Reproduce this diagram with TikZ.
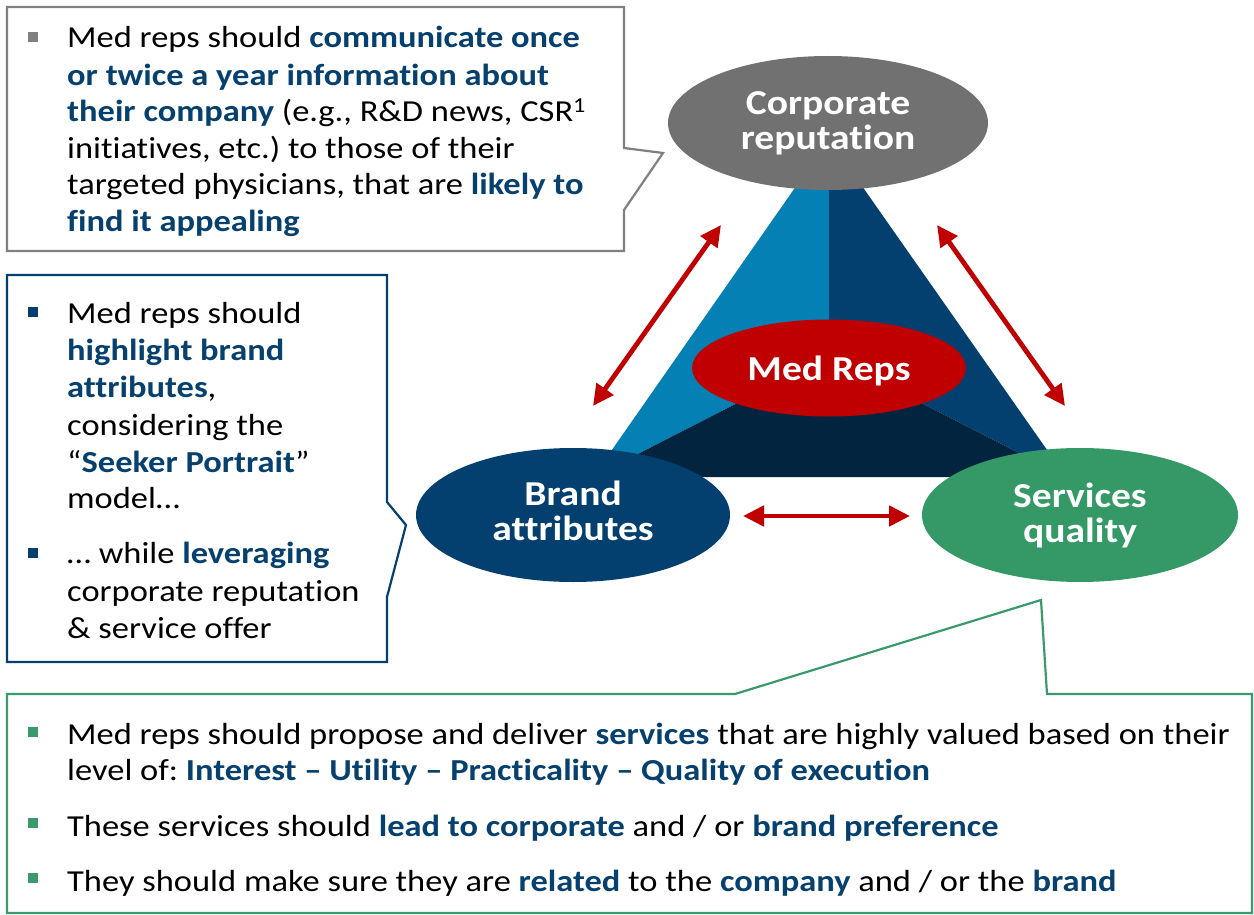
\documentclass[tikz,border=0pt]{standalone}
\usepackage{fontspec}
\setmainfont{Carlito}[FakeStretch=1.13,Ligatures=NoCommon]
\usetikzlibrary{arrows.meta,shapes.geometric}
\definecolor{tblue}{HTML}{06406F}
\definecolor{lblue}{HTML}{0580B4}
\definecolor{dblue}{HTML}{03406F}
\definecolor{ddblue}{HTML}{02243F}
\definecolor{cred}{HTML}{C00000}
\definecolor{cgray}{HTML}{717171}
\definecolor{bgray}{HTML}{808080}
\definecolor{cgreen}{HTML}{349966}
\definecolor{bgreen}{HTML}{3A9A6B}
\newcommand\kw[1]{{\bfseries\color{tblue}#1}}
\newcommand\bodyfont{\fontsize{30.5}{36.8}\selectfont}
\newcommand\ellfont{\bfseries\fontsize{35}{35}\selectfont}
\frenchspacing
\begin{document}
\begin{tikzpicture}[x=1pt,y=-1pt,
  txt/.style={anchor=base west,inner sep=0pt,font=\bodyfont},
  bul/.style={minimum size=10pt,inner sep=0pt,anchor=center},
  ell/.style={ellipse,inner sep=0pt,text=white,font=\ellfont,align=center},
  dbl/.style={draw=cred,line width=4.8pt,{Triangle[length=21pt,width=20pt,fill=cred]}-{Triangle[length=21pt,width=20pt,fill=cred]}},
  callout/.style={fill=white,line width=2.2pt,line join=miter}]
\useasboundingbox (0,0) rectangle (1254,915);

% callout boxes
\draw[callout,draw=bgray] (7,7) -- (624,7) -- (624,148) -- (663,153) -- (624,210) -- (624,251) -- (7,251) -- cycle;
\draw[callout,draw=dblue] (7,275) -- (387,275) -- (387,502) -- (406,525) -- (387,597) -- (387,662) -- (7,662) -- cycle;
\draw[callout,draw=bgreen] (7,694) -- (735,694) -- (1041,600) -- (1047,694) -- (1252,694) -- (1252,913) -- (7,913) -- cycle;

% triangle
\coordinate (apex) at (829,139);
\coordinate (bl) at (593,477);
\coordinate (br) at (1066,477);
\coordinate (ctr) at (829,356);
\fill[lblue] (apex) -- (bl) -- (ctr) -- cycle;
\fill[dblue] (apex) -- (ctr) -- (br) -- cycle;
\fill[ddblue] (bl) -- (ctr) -- (br) -- cycle;

% ellipses
\node[ell,fill=cgray,minimum width=320pt,minimum height=134pt] (corp) at (828,123) {Corporate\\reputation};
\node[ell,fill=cred,minimum width=274pt,minimum height=97pt,text depth=0pt] (med) at (829,368) {Med Reps};
\node[ell,fill=dblue,minimum width=314pt,minimum height=134pt,text depth=8pt] (brand) at (573,515) {Brand\\attributes};
\node[ell,fill=cgreen,minimum width=316pt,minimum height=134pt] (serv) at (1080,515) {Services\\quality};

% arrows
\coordinate (a1) at (721,225);
\coordinate (a2) at (593,406);
\coordinate (a3) at (937,225);
\coordinate (a4) at (1065,406);
\coordinate (a5) at (743,516);
\coordinate (a6) at (910,516);
\draw[dbl] (a1) -- (a2);
\draw[dbl] (a3) -- (a4);
\draw[dbl] (a5) -- (a6);

% gray box text
\node[bul,fill=bgray] (g0) at (33,37) {};
\node[txt] (g1) at (67,48) {Med reps should \kw{communicate once}};
\node[txt] (g2) at (67,86) {\kw{or twice a year information about}};
\node[txt] (g3) at (67,122) {\kw{their company} (e.g., R\&D news, CSR\textsuperscript{1}};
\node[txt] (g4) at (67,159) {initiatives, etc.) to those of their};
\node[txt] (g5) at (67,195) {targeted physicians, that are \kw{likely to}};
\node[txt] (g6) at (67,232) {\kw{find it appealing}};

% blue box text
\node[bul,fill=dblue] (l0) at (33,312) {};
\node[txt] (l1) at (67,323) {Med reps should};
\node[txt] (l2) at (67,360) {\kw{highlight brand}};
\node[txt] (l3) at (67,397) {\kw{attributes},};
\node[txt] (l4) at (67,435) {considering the};
\node[txt] (l5) at (67,472) {“\kw{Seeker Portrait}”};
\node[txt] (l6) at (67,508) {model…};
\node[bul,fill=dblue] (l7) at (33,553) {};
\node[txt] (l8) at (67,563) {… while \kw{leveraging}};
\node[txt] (l9) at (67,601) {corporate reputation};
\node[txt] (l10) at (67,638) {\& service offer};

% green box text
\node[bul,fill=bgreen] (s0) at (33,732) {};
\node[txt] (s1) at (67,744) {Med reps should propose and deliver \kw{services} that are highly valued based on their};
\node[txt] (s2) at (67,780) {level of: \kw{Interest – Utility – Practicality – Quality of execution}};
\node[bul,fill=bgreen] (s3) at (33,823) {};
\node[txt] (s4) at (67,836) {These services should \kw{lead to corporate} and / or \kw{brand preference}};
\node[bul,fill=bgreen] (s5) at (33,878) {};
\node[txt] (s6) at (67,891) {They should make sure they are \kw{related} to the \kw{company} and / or the \kw{brand}};
\end{tikzpicture}
\end{document}
